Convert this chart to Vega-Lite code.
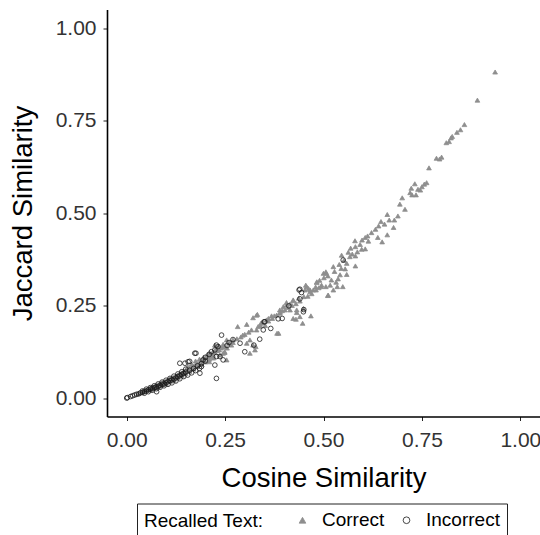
{
  "$schema": "https://vega.github.io/schema/vega-lite/v6.json",
  "autosize": {"type": "none"},
  "width": 433,
  "height": 407,
  "padding": {"left": 107, "top": 9.5, "right": 0, "bottom": 118.5},
  "background": "white",
  "config": {
    "font": "Liberation Sans",
    "view": {"stroke": null},
    "axis": {
      "grid": false,
      "domainColor": "#000000",
      "domainWidth": 1.6,
      "tickColor": "#222222",
      "tickSize": 4,
      "tickWidth": 1,
      "labelFontSize": 21,
      "labelColor": "#333333",
      "labelPadding": 7,
      "titleFontSize": 27.5,
      "titleFontWeight": "normal",
      "titleColor": "#000000"
    },
    "legend": {
      "labelFontSize": 19,
      "titleFontSize": 19,
      "titleFontWeight": "normal",
      "labelColor": "#000000",
      "titleColor": "#000000"
    }
  },
  "data": {
    "values": [
      {"cosine": 0.936, "jaccard": 0.881, "recalled": "Correct"},
      {"cosine": 0.891, "jaccard": 0.805, "recalled": "Correct"},
      {"cosine": 0.858, "jaccard": 0.739, "recalled": "Correct"},
      {"cosine": 0.848, "jaccard": 0.725, "recalled": "Correct"},
      {"cosine": 0.839, "jaccard": 0.718, "recalled": "Correct"},
      {"cosine": 0.827, "jaccard": 0.707, "recalled": "Correct"},
      {"cosine": 0.824, "jaccard": 0.703, "recalled": "Correct"},
      {"cosine": 0.819, "jaccard": 0.693, "recalled": "Correct"},
      {"cosine": 0.812, "jaccard": 0.690, "recalled": "Correct"},
      {"cosine": 0.800, "jaccard": 0.651, "recalled": "Correct"},
      {"cosine": 0.795, "jaccard": 0.646, "recalled": "Correct"},
      {"cosine": 0.787, "jaccard": 0.648, "recalled": "Correct"},
      {"cosine": 0.768, "jaccard": 0.622, "recalled": "Correct"},
      {"cosine": 0.762, "jaccard": 0.582, "recalled": "Correct"},
      {"cosine": 0.756, "jaccard": 0.578, "recalled": "Correct"},
      {"cosine": 0.750, "jaccard": 0.571, "recalled": "Correct"},
      {"cosine": 0.732, "jaccard": 0.579, "recalled": "Correct"},
      {"cosine": 0.746, "jaccard": 0.562, "recalled": "Correct"},
      {"cosine": 0.740, "jaccard": 0.564, "recalled": "Correct"},
      {"cosine": 0.723, "jaccard": 0.567, "recalled": "Correct"},
      {"cosine": 0.720, "jaccard": 0.555, "recalled": "Correct"},
      {"cosine": 0.725, "jaccard": 0.549, "recalled": "Correct"},
      {"cosine": 0.735, "jaccard": 0.549, "recalled": "Correct"},
      {"cosine": 0.700, "jaccard": 0.541, "recalled": "Correct"},
      {"cosine": 0.694, "jaccard": 0.524, "recalled": "Correct"},
      {"cosine": 0.707, "jaccard": 0.510, "recalled": "Correct"},
      {"cosine": 0.689, "jaccard": 0.492, "recalled": "Correct"},
      {"cosine": 0.662, "jaccard": 0.496, "recalled": "Correct"},
      {"cosine": 0.667, "jaccard": 0.481, "recalled": "Correct"},
      {"cosine": 0.680, "jaccard": 0.481, "recalled": "Correct"},
      {"cosine": 0.678, "jaccard": 0.461, "recalled": "Correct"},
      {"cosine": 0.646, "jaccard": 0.477, "recalled": "Correct"},
      {"cosine": 0.640, "jaccard": 0.465, "recalled": "Correct"},
      {"cosine": 0.632, "jaccard": 0.456, "recalled": "Correct"},
      {"cosine": 0.622, "jaccard": 0.447, "recalled": "Correct"},
      {"cosine": 0.638, "jaccard": 0.434, "recalled": "Correct"},
      {"cosine": 0.662, "jaccard": 0.441, "recalled": "Correct"},
      {"cosine": 0.649, "jaccard": 0.422, "recalled": "Correct"},
      {"cosine": 0.614, "jaccard": 0.424, "recalled": "Correct"},
      {"cosine": 0.606, "jaccard": 0.434, "recalled": "Correct"},
      {"cosine": 0.598, "jaccard": 0.427, "recalled": "Correct"},
      {"cosine": 0.580, "jaccard": 0.425, "recalled": "Correct"},
      {"cosine": 0.593, "jaccard": 0.415, "recalled": "Correct"},
      {"cosine": 0.581, "jaccard": 0.409, "recalled": "Correct"},
      {"cosine": 0.606, "jaccard": 0.403, "recalled": "Correct"},
      {"cosine": 0.597, "jaccard": 0.402, "recalled": "Correct"},
      {"cosine": 0.569, "jaccard": 0.405, "recalled": "Correct"},
      {"cosine": 0.586, "jaccard": 0.395, "recalled": "Correct"},
      {"cosine": 0.563, "jaccard": 0.394, "recalled": "Correct"},
      {"cosine": 0.581, "jaccard": 0.384, "recalled": "Correct"},
      {"cosine": 0.546, "jaccard": 0.386, "recalled": "Correct"},
      {"cosine": 0.567, "jaccard": 0.382, "recalled": "Correct"},
      {"cosine": 0.540, "jaccard": 0.361, "recalled": "Correct"},
      {"cosine": 0.559, "jaccard": 0.364, "recalled": "Correct"},
      {"cosine": 0.581, "jaccard": 0.357, "recalled": "Correct"},
      {"cosine": 0.525, "jaccard": 0.355, "recalled": "Correct"},
      {"cosine": 0.545, "jaccard": 0.350, "recalled": "Correct"},
      {"cosine": 0.555, "jaccard": 0.349, "recalled": "Correct"},
      {"cosine": 0.507, "jaccard": 0.337, "recalled": "Correct"},
      {"cosine": 0.511, "jaccard": 0.330, "recalled": "Correct"},
      {"cosine": 0.501, "jaccard": 0.325, "recalled": "Correct"},
      {"cosine": 0.542, "jaccard": 0.333, "recalled": "Correct"},
      {"cosine": 0.559, "jaccard": 0.334, "recalled": "Correct"},
      {"cosine": 0.520, "jaccard": 0.319, "recalled": "Correct"},
      {"cosine": 0.532, "jaccard": 0.313, "recalled": "Correct"},
      {"cosine": 0.549, "jaccard": 0.301, "recalled": "Correct"},
      {"cosine": 0.535, "jaccard": 0.301, "recalled": "Correct"},
      {"cosine": 0.517, "jaccard": 0.305, "recalled": "Correct"},
      {"cosine": 0.506, "jaccard": 0.301, "recalled": "Correct"},
      {"cosine": 0.494, "jaccard": 0.301, "recalled": "Correct"},
      {"cosine": 0.483, "jaccard": 0.312, "recalled": "Correct"},
      {"cosine": 0.488, "jaccard": 0.298, "recalled": "Correct"},
      {"cosine": 0.511, "jaccard": 0.277, "recalled": "Correct"},
      {"cosine": 0.525, "jaccard": 0.292, "recalled": "Correct"},
      {"cosine": 0.481, "jaccard": 0.292, "recalled": "Correct"},
      {"cosine": 0.466, "jaccard": 0.292, "recalled": "Correct"},
      {"cosine": 0.457, "jaccard": 0.301, "recalled": "Correct"},
      {"cosine": 0.453, "jaccard": 0.292, "recalled": "Correct"},
      {"cosine": 0.450, "jaccard": 0.274, "recalled": "Correct"},
      {"cosine": 0.423, "jaccard": 0.263, "recalled": "Correct"},
      {"cosine": 0.468, "jaccard": 0.222, "recalled": "Correct"},
      {"cosine": 0.447, "jaccard": 0.202, "recalled": "Correct"},
      {"cosine": 0.406, "jaccard": 0.258, "recalled": "Correct"},
      {"cosine": 0.398, "jaccard": 0.247, "recalled": "Correct"},
      {"cosine": 0.389, "jaccard": 0.238, "recalled": "Correct"},
      {"cosine": 0.415, "jaccard": 0.238, "recalled": "Correct"},
      {"cosine": 0.432, "jaccard": 0.231, "recalled": "Correct"},
      {"cosine": 0.430, "jaccard": 0.213, "recalled": "Correct"},
      {"cosine": 0.381, "jaccard": 0.224, "recalled": "Correct"},
      {"cosine": 0.368, "jaccard": 0.222, "recalled": "Correct"},
      {"cosine": 0.360, "jaccard": 0.215, "recalled": "Correct"},
      {"cosine": 0.382, "jaccard": 0.175, "recalled": "Correct"},
      {"cosine": 0.330, "jaccard": 0.224, "recalled": "Correct"},
      {"cosine": 0.321, "jaccard": 0.217, "recalled": "Correct"},
      {"cosine": 0.334, "jaccard": 0.193, "recalled": "Correct"},
      {"cosine": 0.328, "jaccard": 0.139, "recalled": "Correct"},
      {"cosine": 0.512, "jaccard": 0.278, "recalled": "Correct"},
      {"cosine": 0.455, "jaccard": 0.305, "recalled": "Correct"},
      {"cosine": 0.483, "jaccard": 0.314, "recalled": "Correct"},
      {"cosine": 0.495, "jaccard": 0.305, "recalled": "Correct"},
      {"cosine": 0.500, "jaccard": 0.337, "recalled": "Correct"},
      {"cosine": 0.506, "jaccard": 0.341, "recalled": "Correct"},
      {"cosine": 0.466, "jaccard": 0.287, "recalled": "Correct"},
      {"cosine": 0.474, "jaccard": 0.292, "recalled": "Correct"},
      {"cosine": 0.423, "jaccard": 0.265, "recalled": "Correct"},
      {"cosine": 0.449, "jaccard": 0.242, "recalled": "Correct"},
      {"cosine": 0.282, "jaccard": 0.193, "recalled": "Correct"},
      {"cosine": 0.305, "jaccard": 0.199, "recalled": "Correct"},
      {"cosine": 0.332, "jaccard": 0.226, "recalled": "Correct"},
      {"cosine": 0.317, "jaccard": 0.184, "recalled": "Correct"},
      {"cosine": 0.330, "jaccard": 0.184, "recalled": "Correct"},
      {"cosine": 0.341, "jaccard": 0.202, "recalled": "Correct"},
      {"cosine": 0.355, "jaccard": 0.211, "recalled": "Correct"},
      {"cosine": 0.386, "jaccard": 0.175, "recalled": "Correct"},
      {"cosine": 0.270, "jaccard": 0.157, "recalled": "Correct"},
      {"cosine": 0.305, "jaccard": 0.148, "recalled": "Correct"},
      {"cosine": 0.313, "jaccard": 0.157, "recalled": "Correct"},
      {"cosine": 0.321, "jaccard": 0.143, "recalled": "Correct"},
      {"cosine": 0.313, "jaccard": 0.121, "recalled": "Correct"},
      {"cosine": 0.326, "jaccard": 0.130, "recalled": "Correct"},
      {"cosine": 0.266, "jaccard": 0.143, "recalled": "Correct"},
      {"cosine": 0.254, "jaccard": 0.157, "recalled": "Correct"},
      {"cosine": 0.224, "jaccard": 0.143, "recalled": "Correct"},
      {"cosine": 0.219, "jaccard": 0.125, "recalled": "Correct"},
      {"cosine": 0.237, "jaccard": 0.116, "recalled": "Correct"},
      {"cosine": 0.249, "jaccard": 0.123, "recalled": "Correct"},
      {"cosine": 0.211, "jaccard": 0.112, "recalled": "Correct"},
      {"cosine": 0.198, "jaccard": 0.098, "recalled": "Correct"},
      {"cosine": 0.389, "jaccard": 0.229, "recalled": "Correct"},
      {"cosine": 0.406, "jaccard": 0.251, "recalled": "Correct"},
      {"cosine": 0.423, "jaccard": 0.215, "recalled": "Correct"},
      {"cosine": 0.440, "jaccard": 0.220, "recalled": "Correct"},
      {"cosine": 0.432, "jaccard": 0.238, "recalled": "Correct"},
      {"cosine": 0.402, "jaccard": 0.238, "recalled": "Correct"},
      {"cosine": 0.211, "jaccard": 0.121, "recalled": "Correct"},
      {"cosine": 0.232, "jaccard": 0.139, "recalled": "Correct"},
      {"cosine": 0.245, "jaccard": 0.121, "recalled": "Correct"},
      {"cosine": 0.254, "jaccard": 0.103, "recalled": "Correct"},
      {"cosine": 0.190, "jaccard": 0.098, "recalled": "Correct"},
      {"cosine": 0.249, "jaccard": 0.125, "recalled": "Correct"},
      {"cosine": 0.290, "jaccard": 0.165, "recalled": "Correct"},
      {"cosine": 0.300, "jaccard": 0.172, "recalled": "Correct"},
      {"cosine": 0.310, "jaccard": 0.178, "recalled": "Correct"},
      {"cosine": 0.340, "jaccard": 0.195, "recalled": "Correct"},
      {"cosine": 0.360, "jaccard": 0.208, "recalled": "Correct"},
      {"cosine": 0.370, "jaccard": 0.215, "recalled": "Correct"},
      {"cosine": 0.390, "jaccard": 0.232, "recalled": "Correct"},
      {"cosine": 0.410, "jaccard": 0.245, "recalled": "Correct"},
      {"cosine": 0.420, "jaccard": 0.250, "recalled": "Correct"},
      {"cosine": 0.440, "jaccard": 0.262, "recalled": "Correct"},
      {"cosine": 0.460, "jaccard": 0.275, "recalled": "Correct"},
      {"cosine": 0.470, "jaccard": 0.282, "recalled": "Correct"},
      {"cosine": 0.430, "jaccard": 0.255, "recalled": "Correct"},
      {"cosine": 0.480, "jaccard": 0.300, "recalled": "Correct"},
      {"cosine": 0.280, "jaccard": 0.160, "recalled": "Correct"},
      {"cosine": 0.270, "jaccard": 0.150, "recalled": "Correct"},
      {"cosine": 0.260, "jaccard": 0.148, "recalled": "Correct"},
      {"cosine": 0.295, "jaccard": 0.170, "recalled": "Correct"},
      {"cosine": 0.345, "jaccard": 0.205, "recalled": "Correct"},
      {"cosine": 0.375, "jaccard": 0.222, "recalled": "Correct"},
      {"cosine": 0.395, "jaccard": 0.236, "recalled": "Correct"},
      {"cosine": 0.415, "jaccard": 0.254, "recalled": "Correct"},
      {"cosine": 0.437, "jaccard": 0.270, "recalled": "Correct"},
      {"cosine": 0.462, "jaccard": 0.296, "recalled": "Correct"},
      {"cosine": 0.490, "jaccard": 0.318, "recalled": "Correct"},
      {"cosine": 0.528, "jaccard": 0.342, "recalled": "Correct"},
      {"cosine": 0.552, "jaccard": 0.372, "recalled": "Correct"},
      {"cosine": 0.573, "jaccard": 0.389, "recalled": "Correct"},
      {"cosine": 0.612, "jaccard": 0.438, "recalled": "Correct"},
      {"cosine": 0.655, "jaccard": 0.470, "recalled": "Correct"},
      {"cosine": 0.537, "jaccard": 0.322, "recalled": "Correct"},
      {"cosine": 0.352, "jaccard": 0.196, "recalled": "Correct"},
      {"cosine": 0.030, "jaccard": 0.012, "recalled": "Correct"},
      {"cosine": 0.040, "jaccard": 0.017, "recalled": "Correct"},
      {"cosine": 0.050, "jaccard": 0.022, "recalled": "Correct"},
      {"cosine": 0.060, "jaccard": 0.026, "recalled": "Correct"},
      {"cosine": 0.065, "jaccard": 0.030, "recalled": "Correct"},
      {"cosine": 0.070, "jaccard": 0.031, "recalled": "Correct"},
      {"cosine": 0.075, "jaccard": 0.035, "recalled": "Correct"},
      {"cosine": 0.080, "jaccard": 0.036, "recalled": "Correct"},
      {"cosine": 0.085, "jaccard": 0.040, "recalled": "Correct"},
      {"cosine": 0.090, "jaccard": 0.042, "recalled": "Correct"},
      {"cosine": 0.095, "jaccard": 0.044, "recalled": "Correct"},
      {"cosine": 0.100, "jaccard": 0.046, "recalled": "Correct"},
      {"cosine": 0.105, "jaccard": 0.050, "recalled": "Correct"},
      {"cosine": 0.110, "jaccard": 0.052, "recalled": "Correct"},
      {"cosine": 0.115, "jaccard": 0.055, "recalled": "Correct"},
      {"cosine": 0.120, "jaccard": 0.056, "recalled": "Correct"},
      {"cosine": 0.125, "jaccard": 0.060, "recalled": "Correct"},
      {"cosine": 0.130, "jaccard": 0.062, "recalled": "Correct"},
      {"cosine": 0.135, "jaccard": 0.066, "recalled": "Correct"},
      {"cosine": 0.140, "jaccard": 0.068, "recalled": "Correct"},
      {"cosine": 0.145, "jaccard": 0.072, "recalled": "Correct"},
      {"cosine": 0.150, "jaccard": 0.075, "recalled": "Correct"},
      {"cosine": 0.155, "jaccard": 0.078, "recalled": "Correct"},
      {"cosine": 0.160, "jaccard": 0.080, "recalled": "Correct"},
      {"cosine": 0.165, "jaccard": 0.084, "recalled": "Correct"},
      {"cosine": 0.170, "jaccard": 0.086, "recalled": "Correct"},
      {"cosine": 0.175, "jaccard": 0.090, "recalled": "Correct"},
      {"cosine": 0.180, "jaccard": 0.092, "recalled": "Correct"},
      {"cosine": 0.185, "jaccard": 0.095, "recalled": "Correct"},
      {"cosine": 0.190, "jaccard": 0.100, "recalled": "Correct"},
      {"cosine": 0.195, "jaccard": 0.104, "recalled": "Correct"},
      {"cosine": 0.200, "jaccard": 0.108, "recalled": "Correct"},
      {"cosine": 0.205, "jaccard": 0.112, "recalled": "Correct"},
      {"cosine": 0.210, "jaccard": 0.105, "recalled": "Correct"},
      {"cosine": 0.215, "jaccard": 0.118, "recalled": "Correct"},
      {"cosine": 0.220, "jaccard": 0.115, "recalled": "Correct"},
      {"cosine": 0.225, "jaccard": 0.122, "recalled": "Correct"},
      {"cosine": 0.230, "jaccard": 0.128, "recalled": "Correct"},
      {"cosine": 0.235, "jaccard": 0.130, "recalled": "Correct"},
      {"cosine": 0.240, "jaccard": 0.135, "recalled": "Correct"},
      {"cosine": 0.245, "jaccard": 0.138, "recalled": "Correct"},
      {"cosine": 0.250, "jaccard": 0.140, "recalled": "Correct"},
      {"cosine": 0.255, "jaccard": 0.135, "recalled": "Correct"},
      {"cosine": 0.260, "jaccard": 0.150, "recalled": "Correct"},
      {"cosine": 0.100, "jaccard": 0.038, "recalled": "Correct"},
      {"cosine": 0.120, "jaccard": 0.048, "recalled": "Correct"},
      {"cosine": 0.140, "jaccard": 0.060, "recalled": "Correct"},
      {"cosine": 0.160, "jaccard": 0.072, "recalled": "Correct"},
      {"cosine": 0.180, "jaccard": 0.085, "recalled": "Correct"},
      {"cosine": 0.200, "jaccard": 0.098, "recalled": "Correct"},
      {"cosine": 0.220, "jaccard": 0.108, "recalled": "Correct"},
      {"cosine": 0.130, "jaccard": 0.055, "recalled": "Correct"},
      {"cosine": 0.150, "jaccard": 0.066, "recalled": "Correct"},
      {"cosine": 0.170, "jaccard": 0.078, "recalled": "Correct"},
      {"cosine": 0.190, "jaccard": 0.090, "recalled": "Correct"},
      {"cosine": 0.210, "jaccard": 0.098, "recalled": "Correct"},
      {"cosine": 0.110, "jaccard": 0.045, "recalled": "Correct"},
      {"cosine": 0.090, "jaccard": 0.036, "recalled": "Correct"},
      {"cosine": 0.070, "jaccard": 0.027, "recalled": "Correct"},
      {"cosine": 0.080, "jaccard": 0.032, "recalled": "Correct"},
      {"cosine": 0.060, "jaccard": 0.022, "recalled": "Correct"},
      {"cosine": 0.155, "jaccard": 0.085, "recalled": "Correct"},
      {"cosine": 0.175, "jaccard": 0.100, "recalled": "Correct"},
      {"cosine": 0.195, "jaccard": 0.110, "recalled": "Correct"},
      {"cosine": 0.165, "jaccard": 0.092, "recalled": "Correct"},
      {"cosine": 0.185, "jaccard": 0.105, "recalled": "Correct"},
      {"cosine": 0.205, "jaccard": 0.118, "recalled": "Correct"},
      {"cosine": 0.225, "jaccard": 0.130, "recalled": "Correct"},
      {"cosine": 0.245, "jaccard": 0.145, "recalled": "Correct"},
      {"cosine": 0.235, "jaccard": 0.140, "recalled": "Correct"},
      {"cosine": 0.000, "jaccard": 0.000, "recalled": "Incorrect"},
      {"cosine": 0.002, "jaccard": 0.001, "recalled": "Incorrect"},
      {"cosine": 0.010, "jaccard": 0.004, "recalled": "Incorrect"},
      {"cosine": 0.015, "jaccard": 0.006, "recalled": "Incorrect"},
      {"cosine": 0.020, "jaccard": 0.008, "recalled": "Incorrect"},
      {"cosine": 0.025, "jaccard": 0.010, "recalled": "Incorrect"},
      {"cosine": 0.030, "jaccard": 0.011, "recalled": "Incorrect"},
      {"cosine": 0.035, "jaccard": 0.014, "recalled": "Incorrect"},
      {"cosine": 0.040, "jaccard": 0.015, "recalled": "Incorrect"},
      {"cosine": 0.045, "jaccard": 0.018, "recalled": "Incorrect"},
      {"cosine": 0.050, "jaccard": 0.019, "recalled": "Incorrect"},
      {"cosine": 0.055, "jaccard": 0.022, "recalled": "Incorrect"},
      {"cosine": 0.060, "jaccard": 0.024, "recalled": "Incorrect"},
      {"cosine": 0.065, "jaccard": 0.026, "recalled": "Incorrect"},
      {"cosine": 0.070, "jaccard": 0.028, "recalled": "Incorrect"},
      {"cosine": 0.075, "jaccard": 0.030, "recalled": "Incorrect"},
      {"cosine": 0.080, "jaccard": 0.031, "recalled": "Incorrect"},
      {"cosine": 0.085, "jaccard": 0.034, "recalled": "Incorrect"},
      {"cosine": 0.090, "jaccard": 0.037, "recalled": "Incorrect"},
      {"cosine": 0.095, "jaccard": 0.038, "recalled": "Incorrect"},
      {"cosine": 0.100, "jaccard": 0.041, "recalled": "Incorrect"},
      {"cosine": 0.105, "jaccard": 0.044, "recalled": "Incorrect"},
      {"cosine": 0.110, "jaccard": 0.047, "recalled": "Incorrect"},
      {"cosine": 0.115, "jaccard": 0.049, "recalled": "Incorrect"},
      {"cosine": 0.120, "jaccard": 0.051, "recalled": "Incorrect"},
      {"cosine": 0.125, "jaccard": 0.054, "recalled": "Incorrect"},
      {"cosine": 0.130, "jaccard": 0.058, "recalled": "Incorrect"},
      {"cosine": 0.135, "jaccard": 0.060, "recalled": "Incorrect"},
      {"cosine": 0.140, "jaccard": 0.064, "recalled": "Incorrect"},
      {"cosine": 0.145, "jaccard": 0.066, "recalled": "Incorrect"},
      {"cosine": 0.150, "jaccard": 0.070, "recalled": "Incorrect"},
      {"cosine": 0.160, "jaccard": 0.075, "recalled": "Incorrect"},
      {"cosine": 0.170, "jaccard": 0.080, "recalled": "Incorrect"},
      {"cosine": 0.180, "jaccard": 0.087, "recalled": "Incorrect"},
      {"cosine": 0.190, "jaccard": 0.093, "recalled": "Incorrect"},
      {"cosine": 0.200, "jaccard": 0.100, "recalled": "Incorrect"},
      {"cosine": 0.040, "jaccard": 0.019, "recalled": "Incorrect"},
      {"cosine": 0.050, "jaccard": 0.024, "recalled": "Incorrect"},
      {"cosine": 0.060, "jaccard": 0.028, "recalled": "Incorrect"},
      {"cosine": 0.070, "jaccard": 0.033, "recalled": "Incorrect"},
      {"cosine": 0.080, "jaccard": 0.038, "recalled": "Incorrect"},
      {"cosine": 0.090, "jaccard": 0.043, "recalled": "Incorrect"},
      {"cosine": 0.100, "jaccard": 0.048, "recalled": "Incorrect"},
      {"cosine": 0.110, "jaccard": 0.053, "recalled": "Incorrect"},
      {"cosine": 0.120, "jaccard": 0.059, "recalled": "Incorrect"},
      {"cosine": 0.130, "jaccard": 0.065, "recalled": "Incorrect"},
      {"cosine": 0.140, "jaccard": 0.071, "recalled": "Incorrect"},
      {"cosine": 0.150, "jaccard": 0.078, "recalled": "Incorrect"},
      {"cosine": 0.045, "jaccard": 0.013, "recalled": "Incorrect"},
      {"cosine": 0.055, "jaccard": 0.017, "recalled": "Incorrect"},
      {"cosine": 0.065, "jaccard": 0.021, "recalled": "Incorrect"},
      {"cosine": 0.075, "jaccard": 0.025, "recalled": "Incorrect"},
      {"cosine": 0.085, "jaccard": 0.029, "recalled": "Incorrect"},
      {"cosine": 0.095, "jaccard": 0.033, "recalled": "Incorrect"},
      {"cosine": 0.105, "jaccard": 0.037, "recalled": "Incorrect"},
      {"cosine": 0.115, "jaccard": 0.041, "recalled": "Incorrect"},
      {"cosine": 0.125, "jaccard": 0.046, "recalled": "Incorrect"},
      {"cosine": 0.135, "jaccard": 0.052, "recalled": "Incorrect"},
      {"cosine": 0.145, "jaccard": 0.058, "recalled": "Incorrect"},
      {"cosine": 0.155, "jaccard": 0.062, "recalled": "Incorrect"},
      {"cosine": 0.165, "jaccard": 0.068, "recalled": "Incorrect"},
      {"cosine": 0.175, "jaccard": 0.074, "recalled": "Incorrect"},
      {"cosine": 0.185, "jaccard": 0.080, "recalled": "Incorrect"},
      {"cosine": 0.076, "jaccard": 0.017, "recalled": "Incorrect"},
      {"cosine": 0.173, "jaccard": 0.121, "recalled": "Incorrect"},
      {"cosine": 0.135, "jaccard": 0.094, "recalled": "Incorrect"},
      {"cosine": 0.148, "jaccard": 0.094, "recalled": "Incorrect"},
      {"cosine": 0.156, "jaccard": 0.098, "recalled": "Incorrect"},
      {"cosine": 0.228, "jaccard": 0.053, "recalled": "Incorrect"},
      {"cosine": 0.186, "jaccard": 0.067, "recalled": "Incorrect"},
      {"cosine": 0.228, "jaccard": 0.143, "recalled": "Incorrect"},
      {"cosine": 0.237, "jaccard": 0.112, "recalled": "Incorrect"},
      {"cosine": 0.224, "jaccard": 0.130, "recalled": "Incorrect"},
      {"cosine": 0.176, "jaccard": 0.121, "recalled": "Incorrect"},
      {"cosine": 0.241, "jaccard": 0.170, "recalled": "Incorrect"},
      {"cosine": 0.160, "jaccard": 0.099, "recalled": "Incorrect"},
      {"cosine": 0.224, "jaccard": 0.089, "recalled": "Incorrect"},
      {"cosine": 0.288, "jaccard": 0.148, "recalled": "Incorrect"},
      {"cosine": 0.232, "jaccard": 0.139, "recalled": "Incorrect"},
      {"cosine": 0.228, "jaccard": 0.112, "recalled": "Incorrect"},
      {"cosine": 0.245, "jaccard": 0.103, "recalled": "Incorrect"},
      {"cosine": 0.194, "jaccard": 0.103, "recalled": "Incorrect"},
      {"cosine": 0.190, "jaccard": 0.085, "recalled": "Incorrect"},
      {"cosine": 0.200, "jaccard": 0.110, "recalled": "Incorrect"},
      {"cosine": 0.210, "jaccard": 0.118, "recalled": "Incorrect"},
      {"cosine": 0.215, "jaccard": 0.125, "recalled": "Incorrect"},
      {"cosine": 0.260, "jaccard": 0.150, "recalled": "Incorrect"},
      {"cosine": 0.270, "jaccard": 0.158, "recalled": "Incorrect"},
      {"cosine": 0.255, "jaccard": 0.142, "recalled": "Incorrect"},
      {"cosine": 0.349, "jaccard": 0.206, "recalled": "Incorrect"},
      {"cosine": 0.347, "jaccard": 0.184, "recalled": "Incorrect"},
      {"cosine": 0.366, "jaccard": 0.188, "recalled": "Incorrect"},
      {"cosine": 0.338, "jaccard": 0.159, "recalled": "Incorrect"},
      {"cosine": 0.300, "jaccard": 0.125, "recalled": "Incorrect"},
      {"cosine": 0.323, "jaccard": 0.143, "recalled": "Incorrect"},
      {"cosine": 0.395, "jaccard": 0.215, "recalled": "Incorrect"},
      {"cosine": 0.385, "jaccard": 0.214, "recalled": "Incorrect"},
      {"cosine": 0.351, "jaccard": 0.206, "recalled": "Incorrect"},
      {"cosine": 0.412, "jaccard": 0.249, "recalled": "Incorrect"},
      {"cosine": 0.440, "jaccard": 0.294, "recalled": "Incorrect"},
      {"cosine": 0.444, "jaccard": 0.285, "recalled": "Incorrect"},
      {"cosine": 0.440, "jaccard": 0.268, "recalled": "Incorrect"},
      {"cosine": 0.449, "jaccard": 0.233, "recalled": "Incorrect"},
      {"cosine": 0.438, "jaccard": 0.292, "recalled": "Incorrect"},
      {"cosine": 0.550, "jaccard": 0.373, "recalled": "Incorrect"},
      {"cosine": 0.450, "jaccard": 0.239, "recalled": "Incorrect"}
    ]
  },
  "mark": {"type": "point", "size": 22, "strokeWidth": 0.8, "opacity": 1},
  "encoding": {
    "x": {
      "field": "cosine",
      "type": "quantitative",
      "title": "Cosine Similarity",
      "scale": {"domain": [-0.05, 1.05], "nice": false, "zero": false},
      "axis": {"values": [0, 0.25, 0.5, 0.75, 1], "format": ".2f", "labelPadding": 9, "titlePadding": 14}
    },
    "y": {
      "field": "jaccard",
      "type": "quantitative",
      "title": "Jaccard Similarity",
      "scale": {"domain": [-0.05, 1.05], "nice": false, "zero": false},
      "axis": {"values": [0, 0.25, 0.5, 0.75, 1], "format": ".2f", "titlePadding": 18}
    },
    "shape": {
      "field": "recalled",
      "type": "nominal",
      "title": "Recalled Text:",
      "scale": {"domain": ["Correct", "Incorrect"], "range": ["triangle-up", "circle"]},
      "legend": {
        "orient": "none",
        "legendX": 30,
        "legendY": 494,
        "direction": "horizontal",
        "titleOrient": "left",
        "titlePadding": 29,
        "symbolSize": 45,
        "symbolStrokeWidth": 0.8,
        "labelOffset": 10,
        "columnPadding": 12,
        "padding": 7,
        "strokeColor": "#222222",
        "fillColor": "white"
      }
    },
    "fill": {
      "field": "recalled",
      "type": "nominal",
      "title": "Recalled Text:",
      "scale": {"domain": ["Correct", "Incorrect"], "range": ["#8e8e8e", "transparent"]}
    },
    "stroke": {
      "field": "recalled",
      "type": "nominal",
      "title": "Recalled Text:",
      "scale": {"domain": ["Correct", "Incorrect"], "range": ["#8e8e8e", "#1a1a1a"]}
    }
  }
}
